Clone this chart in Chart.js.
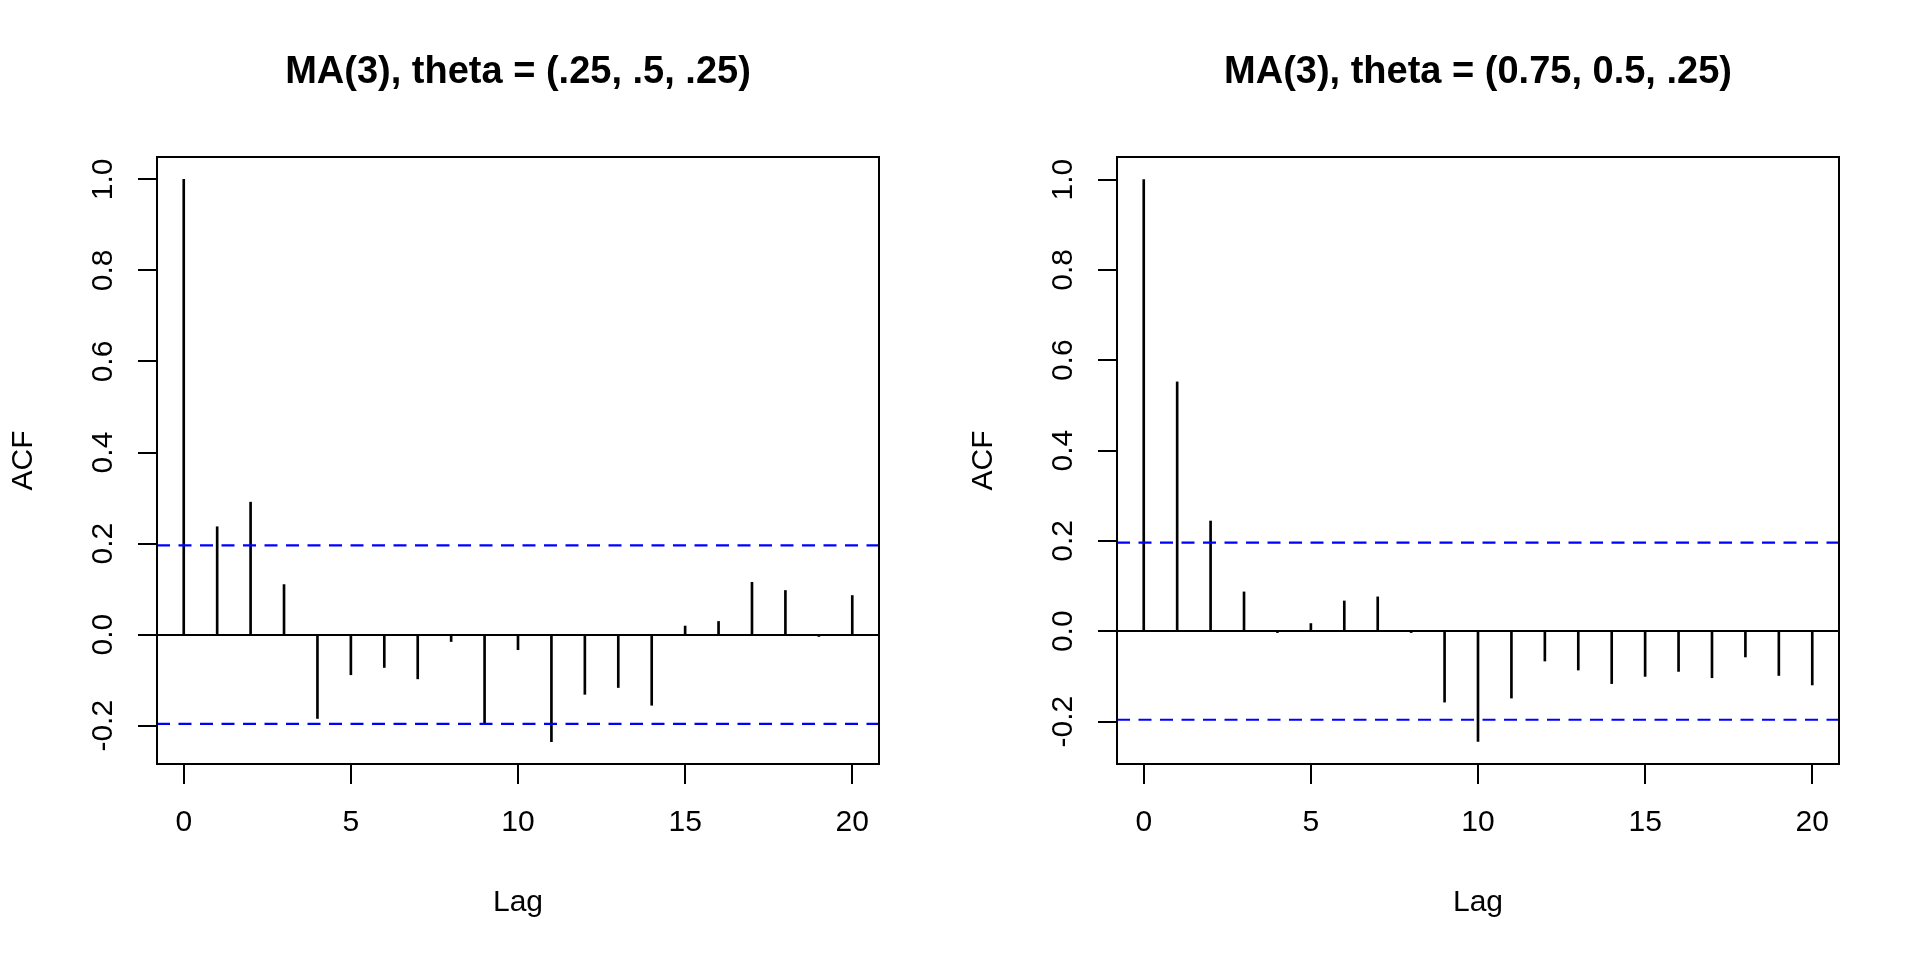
<!DOCTYPE html>
<html>
<head>
<meta charset="utf-8">
<title>MA(3) ACF</title>
<script src="https://cdn.jsdelivr.net/npm/chart.js@4.4.1/dist/chart.umd.min.js"></script>
<style>
  html, body { margin: 0; padding: 0; background: #fff; }
  .panel { position: absolute; top: 0; width: 960px; height: 960px; }
  #p1 { left: 0; }
  #p2 { left: 960px; }
</style>
</head>
<body>
<div class="panel" id="p1"><canvas id="acfLeft"></canvas></div>
<div class="panel" id="p2"><canvas id="acfRight"></canvas></div>
<script>
(function () {
  'use strict';

  const FONT = '"Liberation Sans", Arial, Helvetica, sans-serif';

  const LAGS = [0, 1, 2, 3, 4, 5, 6, 7, 8, 9, 10, 11, 12, 13, 14, 15, 16, 17, 18, 19, 20];
  const ACF_LEFT = [1.0, 0.237, 0.291, 0.110, -0.184, -0.088, -0.072, -0.097, -0.015, -0.195,
    -0.033, -0.235, -0.131, -0.116, -0.155, 0.019, 0.029, 0.115, 0.097, -0.004, 0.086];
  const ACF_RIGHT = [1.0, 0.552, 0.244, 0.087, -0.003, 0.017, 0.067, 0.076, -0.003, -0.157,
    -0.244, -0.148, -0.066, -0.086, -0.116, -0.100, -0.089, -0.103, -0.057, -0.098, -0.119];
  const CLIM = 0.196;

  const TITLES = ['MA(3), theta = (.25, .5, .25)', 'MA(3), theta = (0.75, 0.5, .25)'];
  const X_TICKS = [0, 5, 10, 15, 20];
  const Y_TICKS = [-0.2, 0.0, 0.2, 0.4, 0.6, 0.8, 1.0];
  const X_RANGE = [-0.8, 20.8];
  const Y_RANGE_LEFT = [-0.284, 1.049];
  const Y_RANGE_RIGHT = [-0.294, 1.050];

  Chart.defaults.font.family = FONT;
  Chart.defaults.color = '#000';

  // box, outward tick marks and rotated y tick labels, R style
  const rFrame = {
    id: 'rFrame',
    afterDraw(chart) {
      const { ctx, chartArea: a } = chart;
      const xScale = chart.scales.x;
      const yScale = chart.scales.y;
      ctx.save();
      ctx.strokeStyle = '#000';
      ctx.lineWidth = 2;
      ctx.strokeRect(a.left, a.top, a.right - a.left, a.bottom - a.top);

      ctx.beginPath();
      X_TICKS.forEach((v) => {
        const px = Math.round(xScale.getPixelForValue(v));
        ctx.moveTo(px, a.bottom);
        ctx.lineTo(px, a.bottom + 20);
      });
      Y_TICKS.forEach((v) => {
        const py = Math.round(yScale.getPixelForValue(v));
        ctx.moveTo(a.left - 19, py);
        ctx.lineTo(a.left, py);
      });
      ctx.stroke();

      ctx.fillStyle = '#000';
      ctx.font = '30px ' + FONT;
      ctx.textAlign = 'center';
      ctx.textBaseline = 'alphabetic';
      Y_TICKS.forEach((v) => {
        ctx.save();
        ctx.translate(a.left - 45, yScale.getPixelForValue(v));
        ctx.rotate(-Math.PI / 2);
        ctx.fillText(v.toFixed(1), 0, 0);
        ctx.restore();
      });
      ctx.restore();
    }
  };

  function limitLine(value) {
    return {
      type: 'line',
      data: [{ x: X_RANGE[0], y: value }, { x: X_RANGE[1], y: value }],
      borderColor: '#0000ff',
      borderWidth: 2.2,
      borderDash: [13, 8.5],
      pointRadius: 0,
      fill: false
    };
  }

  function makeChart(canvasId, title, acf, yRange) {
    const canvas = document.getElementById(canvasId);
    return new Chart(canvas.getContext('2d'), {
      type: 'bar',
      data: {
        datasets: [
          limitLine(CLIM),
          limitLine(-CLIM),
          {
            type: 'bar',
            data: LAGS.map((lag, i) => ({ x: lag, y: acf[i] })),
            backgroundColor: '#000',
            borderWidth: 0,
            barThickness: 2
          }
        ]
      },
      options: {
        responsive: true,
        maintainAspectRatio: false,
        animation: false,
        layout: { padding: { left: 0, right: 81, top: 0, bottom: 0 } },
        scales: {
          x: {
            type: 'linear',
            min: X_RANGE[0],
            max: X_RANGE[1],
            offset: false,
            afterBuildTicks: (s) => { s.ticks = X_TICKS.map((v) => ({ value: v })); },
            afterFit: (s) => { s.height = 196; },
            border: { display: false },
            grid: { display: false, drawTicks: false, offset: false },
            ticks: {
              font: { size: 30 },
              padding: 41,
              maxRotation: 0
            },
            title: {
              display: true,
              text: 'Lag',
              font: { size: 30 },
              padding: { top: 0, bottom: 39 }
            }
          },
          y: {
            type: 'linear',
            min: yRange[0],
            max: yRange[1],
            afterBuildTicks: (s) => { s.ticks = Y_TICKS.map((v) => ({ value: v })); },
            afterFit: (s) => { s.width = 157; },
            border: { display: false },
            grid: {
              color: (c) => (c.tick && c.tick.value === 0 ? '#000' : 'rgba(0,0,0,0)'),
              drawTicks: false,
              lineWidth: 2
            },
            ticks: { display: false },
            title: {
              display: true,
              text: 'ACF',
              font: { size: 30 },
              padding: { top: 6, bottom: 0 }
            }
          }
        },
        plugins: {
          legend: { display: false },
          tooltip: { enabled: false },
          title: {
            display: true,
            text: title,
            fullSize: false,
            font: { size: 38, weight: 'bold', lineHeight: 1.2 },
            padding: { top: 50, bottom: 61.4 }
          }
        }
      },
      plugins: [rFrame]
    });
  }

  makeChart('acfLeft', TITLES[0], ACF_LEFT, Y_RANGE_LEFT);
  makeChart('acfRight', TITLES[1], ACF_RIGHT, Y_RANGE_RIGHT);
})();
</script>
</body>
</html>
